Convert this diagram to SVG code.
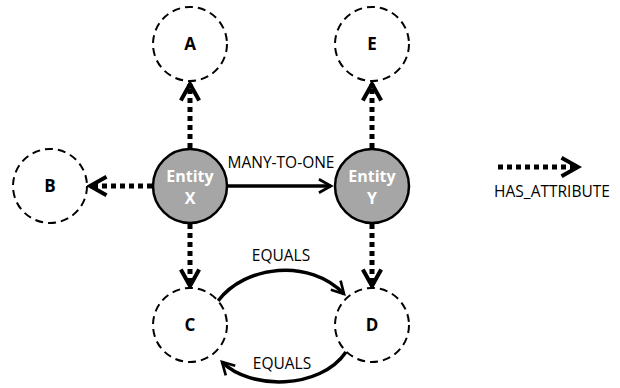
<svg xmlns="http://www.w3.org/2000/svg" width="620" height="388" viewBox="0 0 620 388">
<defs>
<marker id="chev" viewBox="0 0 12 12" refX="10" refY="6" markerWidth="4.4" markerHeight="4.4" markerUnits="strokeWidth" orient="auto">
<path d="M1,1 L10,6 L1,11" fill="none" stroke="#000" stroke-width="2.2"/>
</marker>
<marker id="chev2" viewBox="0 0 12 12" refX="10" refY="6" markerWidth="4.6" markerHeight="4.6" markerUnits="strokeWidth" orient="auto">
<path d="M1,1 L10,6 L1,11" fill="none" stroke="#000" stroke-width="2"/>
</marker>
</defs>
<style>
.attr{fill:#fff;stroke:#000;stroke-width:2;stroke-dasharray:8,5}
.ent{fill:#a6a6a6;stroke:#000;stroke-width:2.5}
.lbl{font-family:"Open Sans","Liberation Sans",sans-serif;font-weight:bold;font-size:17px;text-anchor:middle;fill:#000}
.elbl{font-family:"Open Sans","Liberation Sans",sans-serif;font-weight:bold;font-size:16px;text-anchor:middle;fill:#fff}
.dot{fill:none;stroke:#000;stroke-width:5;stroke-dasharray:5,4;marker-end:url(#chev)}
.sol{fill:none;stroke:#000;stroke-width:3.5;marker-end:url(#chev2)}
.txt{font-family:"Open Sans","Liberation Sans",sans-serif;font-size:15.5px;fill:#000;text-anchor:middle}
</style>
<rect width="620" height="388" fill="#fff"/>
<g id="connectors">
<line class="dot" x1="190" y1="148" x2="190" y2="84"/>
<line class="dot" x1="152" y1="186" x2="90" y2="186"/>
<line class="dot" x1="190" y1="224" x2="190" y2="286"/>
<line class="dot" x1="372" y1="148" x2="372" y2="84"/>
<line class="dot" x1="372" y1="224" x2="372" y2="286"/>
<line class="sol" x1="228" y1="186" x2="331" y2="186"/>
<path class="sol" d="M218,301 C245,265 310,258 344,294"/>
<path class="sol" d="M346,352 C320,390 250,390 222,362"/>
<line class="dot" x1="498" y1="167" x2="578" y2="167"/>
</g>
<g id="A"><circle class="attr" cx="190" cy="44" r="37"/><text class="lbl" x="190" y="50">A</text></g>
<g id="B"><circle class="attr" cx="50" cy="186" r="37"/><text class="lbl" x="50" y="192">B</text></g>
<g id="C"><circle class="attr" cx="190" cy="325" r="37"/><text class="lbl" x="190" y="331">C</text></g>
<g id="E"><circle class="attr" cx="372" cy="44" r="37"/><text class="lbl" x="372" y="50">E</text></g>
<g id="D"><circle class="attr" cx="372" cy="325" r="37"/><text class="lbl" x="372" y="331">D</text></g>
<g id="EntityX"><circle class="ent" cx="190" cy="186" r="37"/><text class="elbl" x="190" y="182">Entity</text><text class="elbl" x="190" y="204">X</text></g>
<g id="EntityY"><circle class="ent" cx="372" cy="186" r="37"/><text class="elbl" x="372" y="182">Entity</text><text class="elbl" x="372" y="204">Y</text></g>
<g id="labels">
<text class="txt" x="281" y="168">MANY-TO-ONE</text>
<text class="txt" x="281" y="261">EQUALS</text>
<text class="txt" x="282" y="369">EQUALS</text>
<text class="txt" x="552" y="197">HAS_ATTRIBUTE</text>
</g>
</svg>
